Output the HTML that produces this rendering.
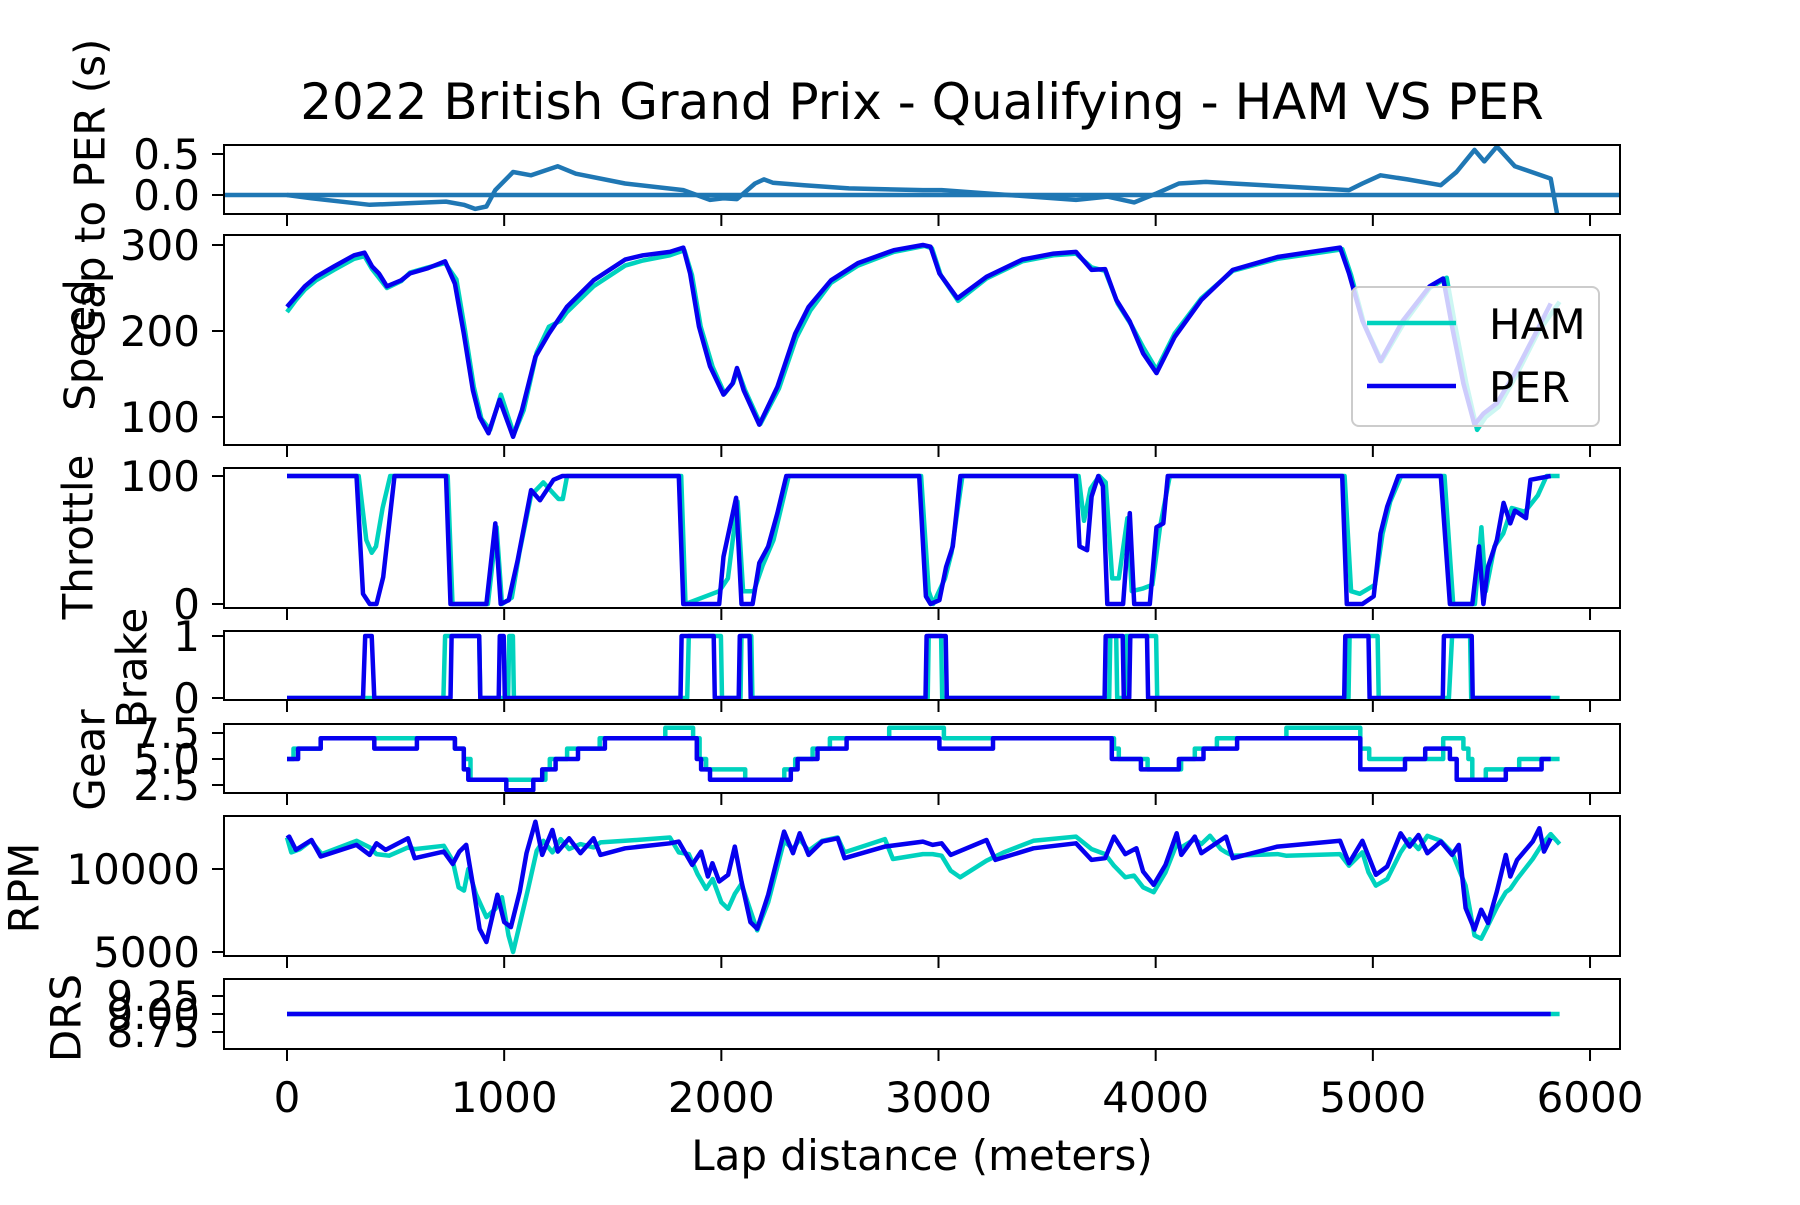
<!DOCTYPE html>
<html><head><meta charset="utf-8"><style>
html,body{margin:0;padding:0;background:#fff}
svg text{font-family:"DejaVu Sans","Liberation Sans",sans-serif;fill:#000}
</style></head><body>
<svg id="chart" width="1800" height="1200" viewBox="0 0 1800 1200" xmlns="http://www.w3.org/2000/svg">
<text x="922" y="119" font-size="50" text-anchor="middle">2022 British Grand Prix - Qualifying - HAM VS PER</text>
<text x="922" y="1170" font-size="42" text-anchor="middle">Lap distance (meters)</text>
<g id="layer"></g>
</svg>
<script>
// ---- data ----
const xTicks = [0, 1000, 2000, 3000, 4000, 5000, 6000];
const gapDist = [0,113,381,732,814,866,918,959,1041,1124,1247,1330,1557,1825,1948,2010,2072,2155,2196,2237,2381,2588,2928,3014,3633,3777,3901,4004,4107,4231,4355,4890,4952,5035,5159,5313,5385,5468,5513,5571,5654,5819,5860];
const gapVal = [0,-0.04,-0.12,-0.08,-0.12,-0.17,-0.14,0.06,0.28,0.24,0.35,0.26,0.14,0.06,-0.06,-0.04,-0.05,0.14,0.19,0.15,0.12,0.08,0.06,0.06,-0.06,-0.02,-0.09,0.02,0.14,0.16,0.14,0.06,0.14,0.24,0.19,0.12,0.28,0.55,0.41,0.59,0.35,0.2,-0.4];

const perSpeedDist = [0,41,82,134,216,309,357,392,423,460,526,567,649,728,773,814,856,887,928,979,1041,1082,1144,1206,1289,1412,1557,1639,1763,1825,1856,1897,1948,2010,2052,2072,2103,2175,2258,2340,2402,2505,2629,2794,2928,2963,3004,3087,3221,3386,3530,3633,3705,3767,3819,3881,3942,4004,4087,4210,4355,4561,4849,4890,4952,5035,5138,5262,5324,5365,5417,5468,5509,5571,5654,5757,5819];
const perSpeedVal = [228,240,252,263,275,288,291,275,267,252,259,267,273,281,255,197,131,100,81,120,77,108,170,197,228,259,283,288,292,297,267,205,159,126,139,157,131,91,135,197,228,259,279,294,300,298,267,238,263,283,290,292,271,272,236,211,174,151,193,236,271,286,297,267,212,165,212,252,261,205,139,91,104,116,151,201,232];
const hamSpeedDist = [0,41,82,134,216,309,357,392,423,460,526,567,649,728,780,820,860,895,935,985,1045,1090,1150,1206,1260,1289,1412,1557,1639,1763,1830,1865,1905,1960,2015,2055,2075,2108,2180,2265,2345,2410,2505,2629,2794,2935,2970,3010,3090,3221,3386,3530,3633,3705,3767,3825,3890,3945,4004,4087,4210,4355,4561,4860,4900,4960,5040,5140,5262,5340,5380,5430,5480,5520,5580,5660,5760,5860];
const hamSpeedVal = [222,236,248,259,271,284,287,272,262,250,258,268,274,279,260,200,135,98,85,126,80,108,175,205,212,222,252,276,282,288,294,265,205,158,127,140,155,132,92,133,192,224,256,276,292,299,296,265,235,261,281,288,290,274,270,232,206,180,155,197,238,270,284,295,265,208,165,208,250,262,205,140,85,100,112,148,198,234];

const perThrDist = [0,320,350,381,412,443,474,495,732,753,918,959,984,1021,1062,1124,1165,1227,1268,1804,1825,1990,2010,2068,2093,2144,2175,2216,2258,2299,2911,2942,2963,3004,3035,3066,3101,3633,3649,3684,3705,3736,3757,3777,3850,3881,3901,3973,4004,4035,4056,4859,4880,4952,5004,5035,5066,5117,5313,5355,5458,5489,5509,5530,5571,5602,5633,5654,5705,5726,5819];
const perThrVal = [100,100,8,0,0,21,68,100,100,0,0,63,0,3,34,89,81,97,100,100,0,0,37,83,0,0,32,45,71,100,100,6,0,3,29,45,100,100,45,42,84,100,92,0,0,71,0,0,60,63,100,100,0,0,6,55,76,100,100,0,0,45,0,29,50,79,63,73,67,97,100];
const hamThrDist = [0,330,365,390,410,440,475,740,762,925,965,990,1035,1070,1124,1180,1250,1270,1290,1815,1835,1990,2030,2075,2100,2150,2190,2240,2310,2920,2955,2975,3030,3060,3110,3645,3670,3700,3740,3770,3800,3830,3870,3890,3940,3985,4020,4065,4870,4900,4940,5010,5045,5080,5130,5330,5370,5470,5500,5520,5560,5600,5640,5700,5760,5800,5860];
const hamThrVal = [100,100,50,40,45,75,100,100,0,0,60,0,5,40,85,95,82,82,100,100,0,10,20,80,10,10,30,50,100,100,10,0,20,40,100,100,65,90,100,95,20,20,67,10,12,15,60,100,100,10,8,15,55,80,100,100,0,0,60,10,45,55,75,72,85,100,100];

const perBrakeDist = [0,350,360,390,402,753,758,885,890,975,980,998,1003,1812,1817,1965,1970,2080,2085,2130,2135,2940,2945,3033,3038,3765,3770,3848,3853,3878,3883,3960,3965,4868,4873,4980,4985,5322,5327,5455,5460,5819];
const perBrakeVal = [0,0,1,1,0,0,1,1,0,0,1,1,0,0,1,1,0,0,1,1,0,0,1,1,0,0,1,1,0,0,1,1,0,0,1,1,0,0,1,1,0,0];
const hamBrakeDist = [0,720,728,885,890,1018,1023,1040,1045,1843,1850,1998,2003,2088,2093,2138,2143,2950,2955,3012,3017,3786,3791,3818,3823,3858,3863,4002,4007,4888,4893,5022,5027,5350,5365,5448,5453,5860];
const hamBrakeVal = [0,0,1,1,0,0,1,1,0,0,1,1,0,0,1,1,0,0,1,1,0,0,1,1,0,0,1,1,0,0,1,1,0,0,1,1,0,0];

const perGearDist = [0,51,155,402,598,773,814,835,1010,1134,1175,1237,1340,1464,1887,1907,1948,2320,2351,2443,2577,3004,3251,3798,3932,4107,4220,4375,4942,5148,5241,5355,5386,5612,5777,5819];
const perGearVal = [5,6,7,6,7,6,4,3,2,3,4,5,6,7,5,4,3,4,5,6,7,6,7,5,4,5,6,7,4,5,6,5,3,4,5,5];
const hamGearDist = [0,30,155,773,814,845,1190,1210,1290,1440,1742,1870,1900,1930,2110,2290,2340,2420,2500,2773,3025,3808,3830,3963,4117,4180,4282,4602,4942,4983,5324,5417,5440,5458,5520,5674,5860];
const hamGearVal = [5,6,7,6,5,3,4,5,6,7,8,7,5,4,3,4,5,6,7,8,7,6,5,4,5,6,7,8,6,5,7,6,5,3,4,5,5];

const perRpmDist = [0,10,41,113,155,320,381,412,454,557,588,722,763,794,825,856,887,918,969,1000,1031,1072,1103,1144,1175,1222,1247,1299,1351,1412,1443,1557,1763,1804,1866,1907,1938,1959,1990,2031,2062,2093,2134,2165,2216,2289,2330,2361,2402,2464,2536,2567,2753,2928,2973,3014,3056,3221,3262,3437,3633,3705,3767,3808,3860,3911,3942,3991,4045,4097,4118,4180,4210,4324,4355,4561,4849,4890,4952,5014,5066,5128,5169,5210,5251,5313,5365,5396,5427,5468,5499,5530,5571,5612,5633,5664,5736,5767,5788,5819];
const perRpmVal = [11850,11950,11150,11750,10750,11450,10850,11550,11150,11850,10650,11050,10300,11050,11450,9050,6400,5600,8450,6800,6500,8650,10950,12850,10850,12350,11050,11850,10950,11850,10850,11250,11550,11650,10250,11050,9550,10350,9250,9650,11350,9250,6800,6400,8450,12250,10950,12150,10850,11650,11850,10650,11350,11650,11450,11550,10850,11750,10550,11250,11550,10550,10650,11950,10900,11250,9850,9050,10250,12150,10850,11950,10950,11950,10650,11350,11700,10350,11700,9650,10150,12150,11350,12050,10950,11650,10850,11450,7650,6350,7550,6750,8650,10850,9550,10550,11650,12450,11050,11850];
const hamRpmDist = [0,20,60,110,160,320,381,412,470,557,588,722,763,790,815,835,870,918,960,990,1020,1041,1072,1110,1150,1180,1222,1260,1299,1351,1412,1443,1557,1763,1804,1850,1890,1930,1960,2000,2031,2062,2093,2134,2165,2216,2289,2330,2361,2402,2464,2536,2567,2753,2790,2928,2973,3014,3056,3100,3221,3300,3437,3633,3705,3767,3808,3860,3900,3942,3991,4045,4097,4118,4180,4210,4250,4300,4324,4355,4561,4600,4849,4890,4952,4980,5014,5066,5128,5169,5210,5251,5313,5365,5396,5427,5468,5499,5530,5571,5612,5633,5664,5736,5780,5819,5860];
const hamRpmVal = [11900,11000,11200,11700,10900,11700,11300,10900,10800,11300,11200,11400,10500,8900,8700,10000,8500,7100,7600,8300,6000,5000,6700,8800,11100,11700,11000,11800,11200,11500,11300,11600,11700,11900,11000,10900,9700,8800,9400,8000,7600,8500,9100,7500,6300,8000,11700,11200,11800,11100,11700,11900,11000,11800,10600,10900,10900,10800,9900,9500,10500,11000,11700,11950,11200,10900,10200,9500,9600,8900,8600,9800,11500,11300,11800,11500,12000,11200,11000,10800,10900,10800,10900,10200,11000,9800,9000,9400,11000,11800,11200,12000,11700,11000,10000,9000,6000,5800,6600,7700,8600,8800,9400,10600,11500,12100,11500];

const perDrsDist = [0, 5819];
const perDrsVal = [8, 8];
const hamDrsDist = [0, 5860];
const hamDrsVal = [8, 8];

// ---- layout ----
const NS = 'http://www.w3.org/2000/svg';
const layer = document.getElementById('layer');
const AX_L = 224, AX_R = 1620;
const FS = 42;
function xs(d){ return 287 + d * 0.21717; }
function lin(v0, y0, v1, y1){ return v => y0 + (v - v0) * (y1 - y0) / (v1 - v0); }
const HAM = '#00d2be', PER = '#0600ef', GAP = '#1f77b4';

const panels = [
  {name:'gap', top:145, bot:214, ys:lin(0,195,0.5,154), ticks:[0,0.5], labels:['0.0','0.5'], title:'Gap to PER (s)', tx:90, ty:190},
  {name:'speed', top:235, bot:445, ys:lin(100,417,300,245), ticks:[100,200,300], labels:['100','200','300'], title:'Speed', tx:80, ty:345},
  {name:'throttle', top:468, bot:608, ys:lin(0,604,100,476), ticks:[0,100], labels:['0','100'], title:'Throttle', tx:78, ty:537},
  {name:'brake', top:631, bot:700, ys:lin(0,698,1,636), ticks:[0,1], labels:['0','1'], title:'Brake', tx:132, ty:668},
  {name:'gear', top:724, bot:793, ys:lin(5,759,7.5,733), ticks:[2.5,5,7.5], labels:['2.5','5.0','7.5'], title:'Gear', tx:90, ty:760},
  {name:'rpm', top:816, bot:956, ys:lin(5000,952,10000,869), ticks:[5000,10000], labels:['5000','10000'], title:'RPM', tx:24, ty:888},
  {name:'drs', top:979, bot:1049, ys:lin(8,1014,8.25,996), ticks:[7.75,8,8.25], labels:['8.75','9.00','9.25'], title:'DRS', tx:66, ty:1018}
];

function mk(tag, attrs, parent){
  const e = document.createElementNS(NS, tag);
  for (const k in attrs) e.setAttribute(k, attrs[k]);
  (parent || layer).appendChild(e);
  return e;
}
function pathFrom(dist, vals, ys, step){
  let s = '';
  for (let i = 0; i < dist.length; i++){
    const x = xs(dist[i]).toFixed(1), y = ys(vals[i]).toFixed(1);
    if (i === 0) s += 'M' + x + ',' + y;
    else if (step){ s += 'L' + x + ',' + ys(vals[i-1]).toFixed(1) + 'L' + x + ',' + y; }
    else s += 'L' + x + ',' + y;
  }
  return s;
}

const panelByName = {};
panels.forEach(p => {
  panelByName[p.name] = p;
  const g = mk('g', {});
  
  
  p.g = g;
  const cp = mk('clipPath', {id:'clip-' + p.name}, g);
  mk('rect', {x:AX_L, y:p.top, width:AX_R-AX_L, height:p.bot-p.top}, cp);
  p.plot = mk('g', {'clip-path':'url(#clip-' + p.name + ')'}, g);
  p.ticks.forEach((t, i) => {
    const y = p.ys(t);
    const tk = mk('line', {x1:AX_L-12, x2:AX_L, y1:y, y2:y, stroke:'#000', 'stroke-width':2}, g);
    
    
    const lb = mk('text', {x:AX_L-24, y:y+15, 'font-size':FS, 'text-anchor':'end'}, g);
    lb.textContent = p.labels[i];
    
    
  });
  xTicks.forEach(t => {
    const x = xs(t);
    const tk = mk('line', {x1:x, x2:x, y1:p.bot, y2:p.bot+12, stroke:'#000', 'stroke-width':2}, g);
    
    
  });
  const yt = mk('text', {x:p.tx, y:p.ty, 'font-size':FS, 'text-anchor':'middle', transform:'rotate(-90 ' + p.tx + ' ' + p.ty + ')', 'dominant-baseline':'central'}, g);
  yt.textContent = p.title;
  
  
});

function series(pname, dist, vals, color, label, step){
  const p = panelByName[pname];
  const e = mk('path', {d:pathFrom(dist, vals, p.ys, step), fill:'none', stroke:color, 'stroke-width':4.5, 'stroke-linejoin':'round'}, p.plot);
  
  
}

const gp = panelByName.gap;
const zl = mk('line', {x1:AX_L, x2:AX_R, y1:gp.ys(0), y2:gp.ys(0), stroke:GAP, 'stroke-width':4.5}, gp.plot);


series('gap', gapDist, gapVal, GAP, 'delta', false);
series('speed', hamSpeedDist, hamSpeedVal, HAM, 'ham', false);
series('speed', perSpeedDist, perSpeedVal, PER, 'per', false);
series('throttle', hamThrDist, hamThrVal, HAM, 'ham', false);
series('throttle', perThrDist, perThrVal, PER, 'per', false);
series('brake', hamBrakeDist, hamBrakeVal, HAM, 'ham', false);
series('brake', perBrakeDist, perBrakeVal, PER, 'per', false);
series('gear', hamGearDist, hamGearVal, HAM, 'ham', true);
series('gear', perGearDist, perGearVal, PER, 'per', true);
series('rpm', hamRpmDist, hamRpmVal, HAM, 'ham', false);
series('rpm', perRpmDist, perRpmVal, PER, 'per', false);
series('drs', hamDrsDist, hamDrsVal, HAM, 'ham', false);
series('drs', perDrsDist, perDrsVal, PER, 'per', false);

panels.forEach(p => {
  const r = mk('rect', {x:AX_L, y:p.top, width:AX_R-AX_L, height:p.bot-p.top, fill:'none', stroke:'#000', 'stroke-width':2}, p.g);
  
  
});

xTicks.forEach(t => {
  const lb = mk('text', {x:xs(t), y:1112, 'font-size':FS, 'text-anchor':'middle'});
  lb.textContent = String(t);
  
  
});

const lg = mk('g', {});


mk('rect', {x:1352, y:287, width:247, height:139, rx:7, fill:'#fff', 'fill-opacity':0.8, stroke:'#ccc', 'stroke-width':2}, lg);
const l1 = mk('line', {x1:1367, x2:1456, y1:323, y2:323, stroke:HAM, 'stroke-width':4.5}, lg);


const t1 = mk('text', {x:1489, y:339, 'font-size':FS}, lg);
t1.textContent = 'HAM';


const l2 = mk('line', {x1:1367, x2:1456, y1:386, y2:386, stroke:PER, 'stroke-width':4.5}, lg);


const t2 = mk('text', {x:1489, y:402, 'font-size':FS}, lg);
t2.textContent = 'PER';


</script>
</body></html>
